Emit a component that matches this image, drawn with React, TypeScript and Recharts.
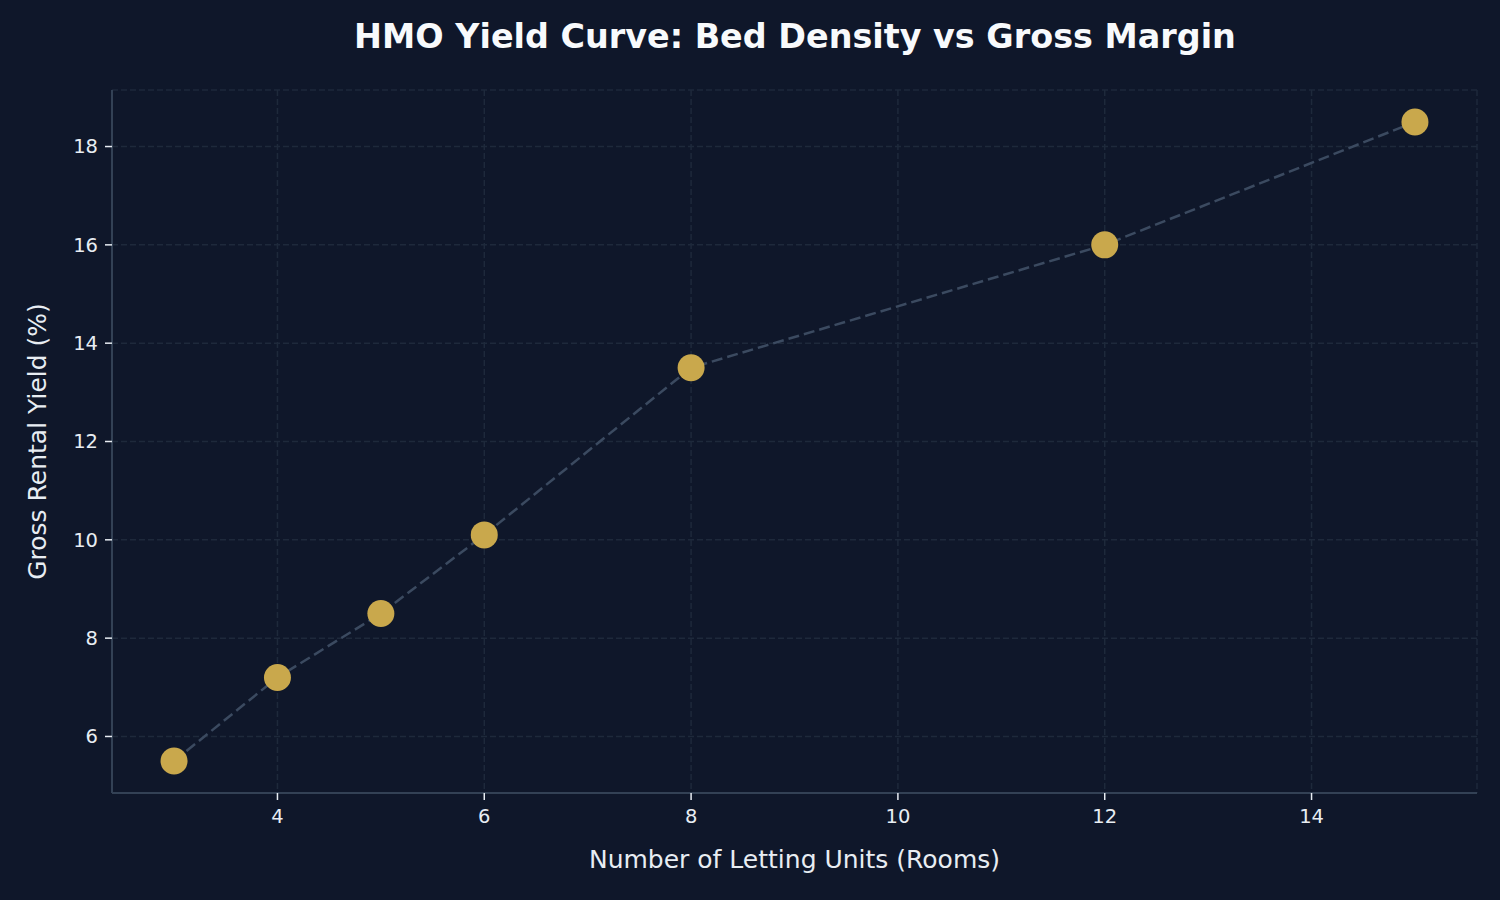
import { ScatterChart, Scatter, XAxis, YAxis, CartesianGrid, Label } from 'recharts';

const rooms = [3, 4, 5, 6, 8, 12, 15];
const yieldPct = [5.5, 7.2, 8.5, 10.1, 13.5, 16.0, 18.5];
const xTicks = [4, 6, 8, 10, 12, 14];
const yTicks = [6, 8, 10, 12, 14, 16, 18];

const data = rooms.map((r, i) => ({ rooms: r, yield: yieldPct[i] }));

const FONT = '"DejaVu Sans", Verdana, sans-serif';
const BG = '#0f172a';
const TEXT = '#e8edf3';

const Dot = (props: any) => {
    const { cx, cy } = props;
    return <circle cx={cx} cy={cy} r={13.5} fill="#c9a84c" />;
};

export default function App() {
    return (
        <div
            style={{
                position: 'absolute',
                left: 0,
                top: 0,
                width: 1500,
                height: 900,
                backgroundColor: BG,
                fontFamily: FONT,
            }}
        >
            <div
                style={{
                    position: 'absolute',
                    top: 17,
                    left: 45,
                    width: 1500,
                    textAlign: 'center',
                    color: '#f8fafc',
                    fontWeight: 'bold',
                    fontSize: 33.4,
                    lineHeight: '40px',
                }}
            >
                HMO Yield Curve: Bed Density vs Gross Margin
            </div>
            <ScatterChart
                width={1500}
                height={900}
                margin={{ top: 90, right: 23, left: 0, bottom: 0 }}
                style={{ position: 'absolute', left: 0, top: 0 }}
            >
                <CartesianGrid stroke="#1e293b" strokeDasharray="6 3" strokeWidth={1.5} />
                <XAxis
                    type="number"
                    dataKey="rooms"
                    domain={[2.4, 15.6]}
                    ticks={xTicks}
                    allowDataOverflow
                    height={107}
                    tickSize={7}
                    tickMargin={9}
                    tick={{ fill: TEXT, fontSize: 19.5, fontFamily: FONT }}
                    tickLine={{ stroke: TEXT, strokeWidth: 1.5 }}
                    axisLine={{ stroke: '#334155', strokeWidth: 2 }}
                >
                    <Label
                        value="Number of Letting Units (Rooms)"
                        position="insideBottom"
                        offset={32}
                        fill={TEXT}
                        fontSize={25}
                        fontFamily={FONT}
                    />
                </XAxis>
                <YAxis
                    type="number"
                    dataKey="yield"
                    domain={[4.85, 19.15]}
                    ticks={yTicks}
                    allowDataOverflow
                    width={112}
                    tickSize={7}
                    tickMargin={7}
                    tick={{ fill: TEXT, fontSize: 19.5, fontFamily: FONT }}
                    tickLine={{ stroke: TEXT, strokeWidth: 1.5 }}
                    axisLine={{ stroke: '#334155', strokeWidth: 2 }}
                >
                    <Label
                        value="Gross Rental Yield (%)"
                        angle={-90}
                        position="insideLeft"
                        offset={37}
                        fill={TEXT}
                        fontSize={25}
                        fontFamily={FONT}
                        style={{ textAnchor: 'middle' }}
                    />
                </YAxis>
                <Scatter
                    data={data}
                    line={{ stroke: '#3b4a60', strokeWidth: 2.5, strokeDasharray: '11 5' }}
                    shape={Dot}
                    isAnimationActive={false}
                />
            </ScatterChart>
        </div>
    );
}
